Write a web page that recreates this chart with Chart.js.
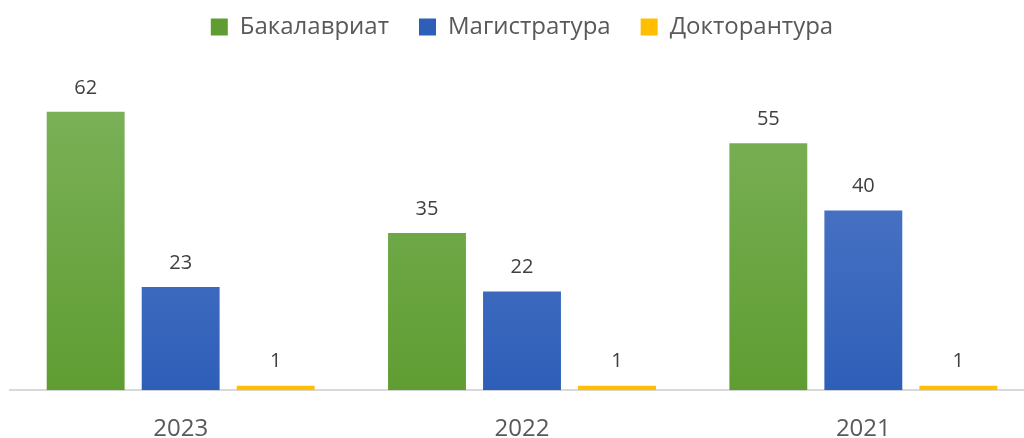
<!DOCTYPE html>
<html>
<head>
<meta charset="utf-8">
<script src="https://cdn.jsdelivr.net/npm/chart.js@4"></script>
<style>
  html, body { margin: 0; padding: 0; background: #fff; overflow: hidden; }
  #wrap { width: 1040px; height: 438px; }
</style>
</head>
<body>
<div id="wrap"><canvas id="myChart"></canvas></div>
<script>
var years = ["2023", "2022", "2021"];
var seriesNames = ["Бакалавриат", "Магистратура", "Докторантура"];
var bachelor = [62, 35, 55];
var master = [23, 22, 40];
var doctor = [1, 1, 1];

var colorTop = ["#80b45f", "#5b80cc", "#ffc72e"];
var colorBottom = ["#5f9d32", "#2e5fb8", "#ffbf00"];

function grad(i) {
    return function (ctx) {
        var chart = ctx.chart;
        var area = chart.chartArea;
        if (!area) return colorBottom[i];
        var g = chart.ctx.createLinearGradient(0, area.top, 0, area.bottom);
        g.addColorStop(0, colorTop[i]);
        g.addColorStop(1, colorBottom[i]);
        return g;
    };
}

// value labels above the bars
var valueLabels = {
    id: 'valueLabels',
    afterDatasetsDraw: function (chart) {
        var c = chart.ctx;
        c.save();
        c.font = '20px "Open Sans"';
        c.fillStyle = '#404040';
        c.textAlign = 'center';
        c.textBaseline = 'bottom';
        chart.data.datasets.forEach(function (ds, i) {
            chart.getDatasetMeta(i).data.forEach(function (bar, j) {
                c.fillText(ds.data[j], bar.x, bar.y - 14);
            });
        });
        c.restore();
    }
};

var ctx = document.getElementById("myChart");

var myChart = new Chart(ctx, {
    type: 'bar',
    data: {
        labels: years,
        datasets: [
            { label: seriesNames[0], data: bachelor, backgroundColor: grad(0) },
            { label: seriesNames[1], data: master, backgroundColor: grad(1) },
            { label: seriesNames[2], data: doctor, backgroundColor: grad(2) }
        ]
    },
    options: {
        responsive: true,
        maintainAspectRatio: false,
        animation: false,
        categoryPercentage: 0.835,
        barPercentage: 0.82,
        layout: { padding: { left: 10, right: 6, top: -15, bottom: -31 } },
        plugins: {
            legend: {
                position: 'top',
                labels: {
                    color: '#595959',
                    font: { family: 'Open Sans', size: 24 },
                    boxWidth: 17,
                    boxHeight: 17,
                    padding: 30,
                    generateLabels: function (chart) {
                        return seriesNames.map(function (n, i) {
                            return {
                                text: n,
                                fillStyle: colorBottom[i],
                                strokeStyle: colorBottom[i],
                                lineWidth: 0,
                                datasetIndex: i,
                                fontColor: '#595959'
                            };
                        });
                    }
                }
            },
            tooltip: { enabled: false }
        },
        scales: {
            x: {
                grid: { display: false, drawTicks: false },
                border: { display: true, color: '#d9d9d9', width: 2 },
                ticks: {
                    color: '#595959',
                    font: { family: 'Open Sans', size: 24 },
                    padding: 25
                }
            },
            y: {
                display: false,
                min: 0,
                max: 76
            }
        }
    },
    plugins: [valueLabels]
});
</script>
</body>
</html>
